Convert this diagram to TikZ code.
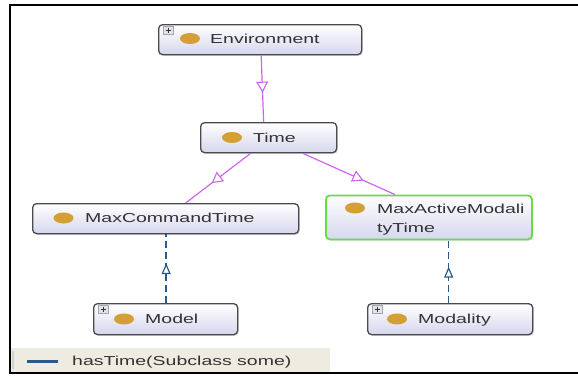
\documentclass[tikz,border=0pt]{standalone}
\usepackage{fontspec}
\newfontfamily\lblfont[FakeStretch=1.5]{Liberation Sans}
\usetikzlibrary{arrows.meta,decorations.markings,shadows,shapes.geometric}
\definecolor{lav}{HTML}{D6D6EE}
\definecolor{nodeborder}{HTML}{4A4A4A}
\definecolor{greenb}{HTML}{66DD44}
\definecolor{dotc}{HTML}{D4A035}
\definecolor{violetc}{HTML}{CC66EE}
\definecolor{bluec}{HTML}{2A5A8A}
\definecolor{beige}{HTML}{EEECE0}
\definecolor{txtc}{HTML}{333333}
\definecolor{plusfill}{HTML}{DDE4EE}
\tikzset{
  cls/.style={draw=nodeborder, line width=1.3pt, rounded corners=4pt,
    top color=white, bottom color=lav, anchor=north west, inner sep=0pt,
    drop shadow={opacity=0.25, shadow xshift=1.2pt, shadow yshift=-1.2pt}},
  selcls/.style={cls, draw=greenb, line width=1.8pt},
  dot/.style={ellipse, fill=dotc, minimum width=20pt, minimum height=11pt, inner sep=0pt},
  lbl/.style={anchor=base west, inner sep=0pt, text=txtc,
    font=\lblfont\fontsize{13}{15}\selectfont},
  plusbox/.style={draw=gray!70, fill=plusfill, line width=0.5pt, minimum width=10pt,
    minimum height=8pt, inner sep=0pt},
  isa/.style={draw=violetc, line width=1.2pt, postaction={decorate},
    decoration={markings, mark=at position #1 with {\arrow[violetc, line width=1.1pt]{Triangle[length=11pt,width=12pt,fill=white]}}}},
  some/.style={draw=bluec, line width=1.5pt, dash pattern=on 7pt off 4pt, postaction={decorate},
    decoration={markings, mark=at position #1 with {\arrow[bluec, line width=1.2pt]{Triangle[length=11pt,width=9pt,fill=white]}}}},
}
\newcommand{\plusmark}[1]{%
  \draw[black!80, line width=0.6pt] ([xshift=-2.5pt]#1.center) -- ([xshift=2.5pt]#1.center);
  \draw[black!80, line width=0.6pt] ([yshift=-2.5pt]#1.center) -- ([yshift=2.5pt]#1.center);}
\begin{document}
\begin{tikzpicture}[x=1pt, y=-1pt]
\useasboundingbox (0,0) rectangle (578,375);
\fill[white] (0,0) rectangle (578,375);

% legend band
\fill[beige] (10,348) rectangle (330,373);
\fill[gray!35] (11.5,351) rectangle (13.5,369);
\coordinate (lgA) at (27,361);
\coordinate (lgB) at (58,361);
\draw[bluec, line width=3pt] (lgA) -- (lgB);
\node[lbl] (lgtxt) at (72,365.5) {hasTime(Subclass some)};

% frame
\draw[black, line width=2pt] (578,5) -- (10,5) -- (10,373) -- (578,373);

% nodes
\node[cls, minimum width=203pt, minimum height=30pt] (env) at (158,24) {};
\node[dot] (envdot) at (190,38.5) {};
\node[lbl] (envlbl) at (210,43.8) {Environment};
\node[plusbox] (envplus) at (168,30) {};
\plusmark{envplus}

\node[cls, minimum width=136pt, minimum height=30pt] (time) at (200,122) {};
\node[dot] (timedot) at (232,137.5) {};
\node[lbl] (timelbl) at (253,142) {Time};

\node[cls, minimum width=266pt, minimum height=30pt] (mct) at (32,203) {};
\node[dot] (mctdot) at (63.5,218) {};
\node[lbl] (mctlbl) at (85,222.5) {MaxCommandTime};

\node[selcls, minimum width=206pt, minimum height=44pt] (mamt) at (325,194.5) {};
\node[dot] (mamtdot) at (355,208) {};
\node[lbl] (mamtlbl1) at (377,213) {MaxActiveModali};
\node[lbl] (mamtlbl2) at (377,232) {tyTime};

\node[cls, minimum width=144pt, minimum height=31pt] (model) at (93,303) {};
\node[dot] (modeldot) at (124,319) {};
\node[lbl] (modellbl) at (145,323.5) {Model};
\node[plusbox] (modelplus) at (103,309) {};
\plusmark{modelplus}

\node[cls, minimum width=165pt, minimum height=31pt] (modality) at (367,303) {};
\node[dot] (modalitydot) at (397,319) {};
\node[lbl] (modalitylbl) at (418,323.5) {Modality};
\node[plusbox] (modalityplus) at (377,309) {};
\plusmark{modalityplus}

% subclass edges
\draw[isa=0.56] ([xshift=1pt]env.south) -- ([xshift=-5pt]time.north);
\draw[isa=0.6] ([xshift=-18pt]time.south) -- ([xshift=20pt]mct.north);
\draw[isa=0.66] ([xshift=34pt]time.south) -- ([xshift=-34pt]mamt.north);

% hasTime edges
\coordinate (modeltop) at ([xshift=0.5pt]model.north);
\coordinate (modalitytop) at ([xshift=-1.5pt]modality.north);
\draw[some=0.58] (modeltop) -- (modeltop |- mct.south);
\draw[some=0.58] (modalitytop) -- (modalitytop |- mamt.south);
\end{tikzpicture}
\end{document}
